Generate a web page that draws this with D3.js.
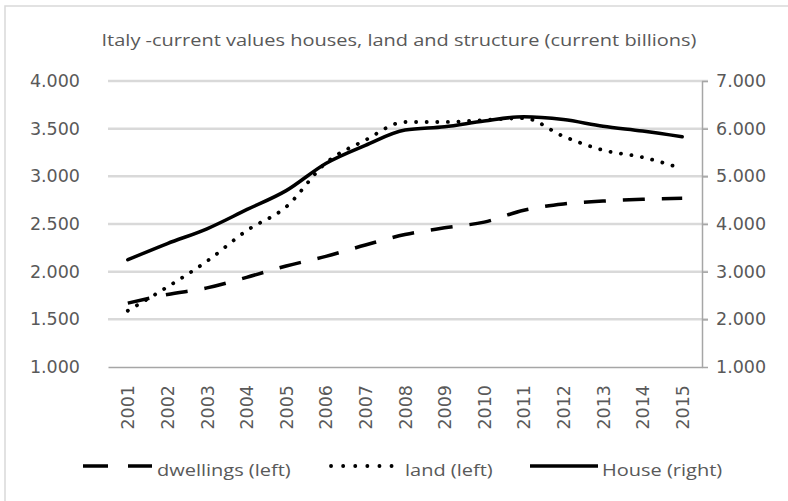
<!DOCTYPE html>
<html>
<head>
<meta charset="utf-8">
<script src="https://cdn.jsdelivr.net/npm/d3@7"></script>
<style>
  body { margin: 0; background: #fff; }
  text { fill: #595959; }
</style>
</head>
<body>
<svg width="788" height="501"></svg>
<script>
var years = ["2001", "2002", "2003", "2004", "2005", "2006", "2007", "2008",
             "2009", "2010", "2011", "2012", "2013", "2014", "2015"];
var dwellings = [1.67, 1.76, 1.83, 1.94, 2.06, 2.16, 2.28, 2.39, 2.46, 2.52, 2.645, 2.71, 2.74, 2.76, 2.77];
var land = [1.59, 1.84, 2.11, 2.43, 2.68, 3.14, 3.38, 3.57, 3.57, 3.59, 3.61, 3.42, 3.275, 3.20, 3.08];
var house = [3.25, 3.59, 3.90, 4.30, 4.70, 5.27, 5.65, 5.97, 6.04, 6.16, 6.25, 6.19, 6.05, 5.95, 5.83];
var leftTicks = [1, 1.5, 2, 2.5, 3, 3.5, 4];
var rightTicks = [1, 2, 3, 4, 5, 6, 7];

var svg = d3.select("svg"),
    margin = {top: 81, right: 86, bottom: 134, left: 108},
    width = +svg.attr("width") - margin.left - margin.right,
    height = +svg.attr("height") - margin.top - margin.bottom,
    stretch = 1.19;

// chart frame
svg.append("rect")
    .attr("x", 5).attr("y", 6)
    .attr("width", 800).attr("height", 520)
    .attr("fill", "none")
    .attr("stroke", "#d9d9d9")
    .attr("stroke-width", 1.5);

svg.append("text")
    .attr("transform", "translate(399,46) scale(" + stretch + ",1)")
    .attr("text-anchor", "middle")
    .style("font-family", "Open Sans")
    .style("font-size", "16.8px")
    .text("Italy -current values houses, land and structure (current billions)");

var g = svg.append("g").attr("transform", "translate(" + margin.left + "," + margin.top + ")");

var x = d3.scaleBand().domain(years).range([0, width]);
var yL = d3.scaleLinear().domain([1, 4]).range([height, 0]);
var yR = d3.scaleLinear().domain([1, 7]).range([height, 0]);

// gridlines
g.append("g")
  .selectAll("line")
  .data(leftTicks.slice(1))
  .enter().append("line")
    .attr("x1", 0).attr("x2", width + 6)
    .attr("y1", function(d) { return yL(d); })
    .attr("y2", function(d) { return yL(d); })
    .attr("stroke", "#d9d9d9")
    .attr("stroke-width", 2.5);

// left axis labels
var axL = g.append("g")
    .call(d3.axisLeft(yL).tickValues(leftTicks).tickSize(0).tickPadding(28)
      .tickFormat(function(d) { return d3.format(".3f")(d); }));
axL.select(".domain").remove();
axL.selectAll("text").style("font-family", "DejaVu Sans").style("font-size", "17.5px").attr("fill", "#595959");

// right axis
var axR = g.append("g")
    .attr("transform", "translate(" + width + ",0)")
    .call(d3.axisRight(yR).tickValues(rightTicks).tickSizeInner(6).tickSizeOuter(0).tickPadding(8)
      .tickFormat(function(d) { return d3.format(".3f")(d); }));
axR.select(".domain").attr("stroke", "#a6a6a6").attr("stroke-width", 1.5);
axR.selectAll("line").attr("stroke", "#a6a6a6").attr("stroke-width", 1.5);
axR.selectAll("text").style("font-family", "DejaVu Sans").style("font-size", "17.5px").attr("fill", "#595959");

// bottom axis
var axB = g.append("g")
    .attr("transform", "translate(0," + height + ")")
    .call(d3.axisBottom(x).tickSize(0).tickPadding(0));
axB.select(".domain").attr("stroke", "#a6a6a6").attr("stroke-width", 1.5);
axB.selectAll("text")
    .style("font-family", "DejaVu Sans").style("font-size", "17.5px").attr("fill", "#262626")
    .attr("text-anchor", "end")
    .attr("dy", null)
    .attr("transform", "translate(6.5,18) rotate(-90)");

var cx = function(d, i) { return x(years[i]) + x.bandwidth() / 2; };

var series = [
  {name: "dwellings (left)", values: dwellings, scale: yL, dash: "22,17", cap: "butt", w: 3.5},
  {name: "land (left)", values: land, scale: yL, dash: "0.1,10.5", cap: "round", w: 3.8},
  {name: "House (right)", values: house, scale: yR, dash: null, cap: "round", w: 3.5}
];

series.forEach(function(s) {
  var line = d3.line()
      .x(cx)
      .y(function(d) { return s.scale(d); })
      .curve(d3.curveMonotoneX);
  g.append("path")
      .datum(s.values)
      .attr("fill", "none")
      .attr("stroke", "#000")
      .attr("stroke-width", s.w)
      .attr("stroke-linecap", s.cap)
      .attr("stroke-dasharray", s.dash)
      .attr("d", line);
});

// legend
var legendX = [83, 330, 530];
var legend = svg.append("g").attr("transform", "translate(0,466)");
series.forEach(function(s, i) {
  var lg = legend.append("g").attr("transform", "translate(" + legendX[i] + ",0)");
  lg.append("line")
      .attr("x1", s.cap === "round" && s.dash ? 1 : 0).attr("x2", i === 0 ? 69 : 68)
      .attr("y1", 0).attr("y2", 0)
      .attr("stroke", "#000")
      .attr("stroke-width", s.w)
      .attr("stroke-linecap", s.cap === "round" && s.dash ? "round" : "butt")
      .attr("stroke-dasharray", i === 0 ? "25,20" : (i === 1 ? "0.1,12" : null));
  lg.append("text")
      .attr("transform", "translate(" + (i === 0 ? 74 : (i === 1 ? 75 : 72)) + ",10) scale(" + stretch + ",1)")
      .style("font-family", "Open Sans")
      .style("font-size", "16.8px")
      .text(s.name);
});
</script>
</body>
</html>
